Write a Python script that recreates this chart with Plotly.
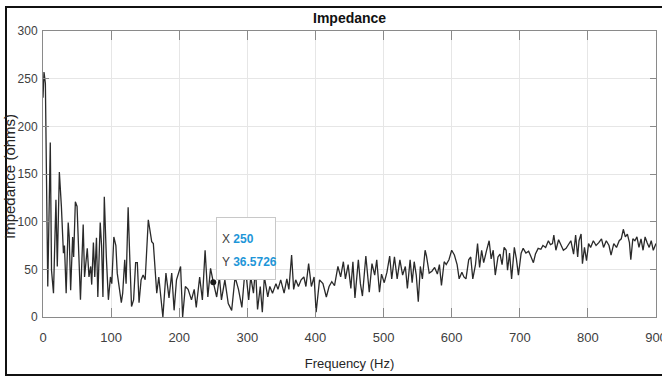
import plotly.graph_objects as go

# ---- data ----
freq_a = [0, 1.5, 3.5, 7, 10.7, 12.5, 15.4, 19, 21, 24, 27, 30, 31.5, 34, 37, 38.5, 40.6, 43.5, 45, 47.5,
          50, 55, 59, 61, 65, 67.5, 70, 71.5, 74, 76, 78.5, 80.5, 84, 86, 88, 90, 93, 96, 99, 101,
          104, 107, 109, 112, 115, 117, 120, 122, 125, 127.5, 130, 133, 136, 138.5, 141, 144, 147, 150]
imp_a = [230, 257, 245, 32, 183, 49, 25, 123, 53, 152, 116, 67, 75, 25, 99, 84, 28, 84, 63, 121,
         116, 18, 97, 42, 72, 42, 53, 34, 78, 42, 83, 21, 99, 75, 21, 126, 63, 18, 42, 35,
         84, 75, 46, 28, 15, 25, 60, 35, 115, 60, 11, 18, 57, 57, 15, 39, 44, 39]

freq_b = [154.6, 159.6, 162, 167, 170, 176, 180.5, 185, 189, 192.5, 196, 202, 205, 209, 213, 218,
          222, 225, 230, 234, 238, 242, 246]
imp_b = [102, 79, 77, 25, 42, 0, 46, 20, 46, 7, 39, 53, 0, 32, 29, 18, 29, 10, 42, 18, 70, 21, 51]

freq_c = [250, 255, 259, 262, 267, 272, 277, 282, 287, 292, 297, 302, 305, 309, 312, 315, 319, 322,
          325, 330, 333, 337, 342, 345, 349, 354, 358, 361, 365, 368, 371, 375, 379, 383, 386, 390,
          394, 398, 401, 406, 411, 416, 420, 424, 428, 433, 437, 441, 444, 448, 452, 455, 458, 463,
          466, 469, 474, 477, 479, 483, 487, 490, 494, 497, 501, 505, 509, 512, 516, 520, 524, 528,
          532, 535, 539, 542, 545, 548, 551, 554, 557, 561, 563, 567, 571, 575, 579, 582, 585, 589,
          592, 596]
imp_c = [36.5726, 21, 42, 18, 39, 14, 7, 42, 29, 10, 53, 18, 42, 25, 51, 8, 32, 5,
         42, 21, 32, 25, 35, 29, 39, 25, 40, 29, 65, 29, 39, 32, 39, 42, 32, 56,
         32, 42, 5, 39, 35, 21, 32, 37, 33, 53, 42, 58, 40, 55, 30, 58, 20, 60,
         35, 22, 64, 40, 26, 56, 44, 60, 26, 45, 36, 47, 64, 40, 63, 40, 60, 44,
         53, 30, 60, 36, 58, 44, 16, 53, 40, 70, 64, 46, 48, 52, 45, 55, 33, 58,
         55, 60]

freq_d = [600, 604, 608, 611, 615, 618, 621, 625, 628, 631, 635, 638, 641, 644, 647, 651, 655, 658,
          661, 664, 668, 671, 674, 677, 680, 682, 685, 688, 692, 695, 698, 702, 705, 709, 713, 716,
          720, 723, 727, 731, 734, 738, 742, 745, 748, 750, 753, 757, 760, 764, 768, 772, 775, 779,
          782, 785, 787, 790, 792, 795, 798, 801, 804, 808, 812, 816, 820, 823, 827, 831, 834, 838,
          842, 846, 849, 852, 855, 858, 861, 863, 866, 869, 872, 875, 878, 881, 884, 887, 890, 893,
          896, 900]
imp_d = [70, 65, 55, 40, 47, 42, 40, 60, 63, 40, 55, 77, 52, 70, 57, 69, 80, 61,
         70, 44, 63, 66, 55, 73, 70, 49, 67, 40, 73, 61, 44, 67, 72, 67, 69, 64,
         57, 66, 72, 71, 75, 73, 80, 76, 77, 86, 70, 81, 76, 70, 72, 77, 80, 66,
         86, 63, 80, 87, 56, 73, 59, 77, 73, 80, 75, 78, 82, 73, 80, 75, 65, 77,
         73, 80, 82, 92, 84, 87, 78, 60, 82, 80, 84, 73, 82, 70, 84, 78, 73, 80,
         70, 77]

x_ticks = [0, 100, 200, 300, 400, 500, 600, 700, 800, 900]
y_ticks = [0, 50, 100, 150, 200, 250, 300]

tip_x = 250
tip_y = 36.5726

freq = freq_a + freq_b + freq_c + freq_d
imp = imp_a + imp_b + imp_c + imp_d

FONT = "Liberation Sans, Arial, sans-serif"
AXC = "#8a8a8a"
GRID = "#e6e6e6"
TXT = "#404040"
BLUE = "#1e96d8"

fig = go.Figure()
fig.add_trace(go.Scatter(x=freq, y=imp, mode="lines",
                         line=dict(color="#2a2a2a", width=1.3), hoverinfo="skip"))
fig.add_trace(go.Scatter(x=[tip_x], y=[tip_y], mode="markers",
                         marker=dict(color="#1a1a1a", size=6), hoverinfo="skip"))

W, H = 662, 376
L, R, T, B = 43, 6, 31, 59
pw, ph = W - L - R, H - T - B

def px_x(p):
    return (p - L) / pw

def px_y(p):
    return (H - B - p) / ph

tip_common = dict(xref="x", yref="y", x=tip_x, y=tip_y, showarrow=False)

fig.update_layout(
    width=W, height=H,
    margin=dict(l=L, r=R, t=T, b=B, autoexpand=False),
    paper_bgcolor="white", plot_bgcolor="white",
    showlegend=False,
    xaxis=dict(range=[0, 900], tickvals=x_ticks, ticktext=[str(v) for v in x_ticks],
               automargin=False, ticklabeloverflow="allow", ticklabelstandoff=8,
               ticks="inside", ticklen=9, tickcolor=AXC, tickwidth=1,
               showline=True, linecolor=AXC, linewidth=1, mirror="ticks",
               showgrid=True, gridcolor=GRID, gridwidth=1, zeroline=False,
               tickfont=dict(family=FONT, size=13, color=TXT),
               title=dict(text="Frequency (Hz)", font=dict(family=FONT, size=13, color="#262626"),
                          standoff=15)),
    yaxis=dict(range=[0, 300], tickvals=y_ticks, ticktext=[str(v) for v in y_ticks],
               automargin=False, ticklabeloverflow="allow", ticklabelstandoff=2,
               ticks="inside", ticklen=6, tickcolor=AXC, tickwidth=1,
               showline=True, linecolor=AXC, linewidth=1, mirror="ticks",
               showgrid=True, gridcolor=GRID, gridwidth=1, zeroline=False,
               tickfont=dict(family=FONT, size=12, color=TXT)),
    annotations=[
        dict(text="<b>Impedance</b>", xref="paper", yref="paper", x=0.5, y=px_y(18),
             xanchor="center", yanchor="middle", showarrow=False,
             font=dict(family=FONT, size=14, color="#111111")),
        dict(text="Impedance (ohms)", xref="paper", yref="paper", x=px_x(10), y=px_y(177),
             xanchor="center", yanchor="middle", showarrow=False, textangle=-90,
             font=dict(family=FONT, size=15, color="#262626")),
        # data tip box
        dict(text=" ", xanchor="left", yanchor="bottom", xshift=3, yshift=2,
             width=56, height=59, borderpad=1, bgcolor="white",
             bordercolor="#c8c8c8", borderwidth=1, **tip_common),
        dict(text="X <span style='color:%s'><b>%g</b></span>" % (BLUE, tip_x),
             xanchor="left", yanchor="middle", xshift=7, yshift=43, align="left",
             font=dict(family=FONT, size=12, color=TXT), **tip_common),
        dict(text="Y <span style='color:%s'><b>%s</b></span>" % (BLUE, f"{tip_y:.4f}"),
             xanchor="left", yanchor="middle", xshift=7, yshift=20, align="left",
             font=dict(family=FONT, size=12, color=TXT), **tip_common),
    ],
    shapes=[
        dict(type="rect", xref="paper", yref="paper",
             x0=px_x(6), x1=px_x(665), y0=px_y(375), y1=px_y(7),
             line=dict(color="#111111", width=2), fillcolor="rgba(0,0,0,0)", layer="above"),
    ],
)

fig.write_html("out.html")
